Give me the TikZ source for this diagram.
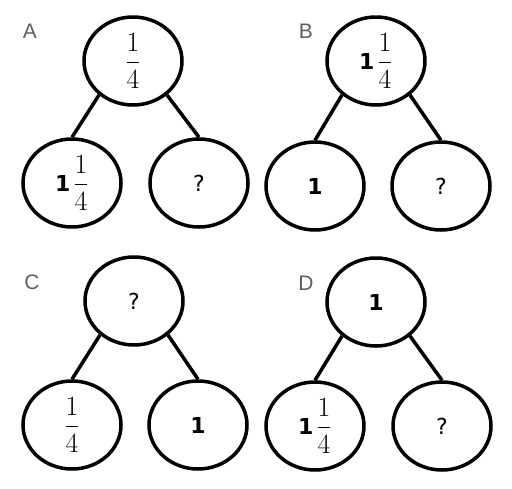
\documentclass[tikz,border=0pt]{standalone}
\usepackage{fontspec}
\usepackage{amsmath}
\usepackage{graphicx}
\usetikzlibrary{shapes.geometric}
\newfontfamily\signfont{DejaVu Sans}
\newfontfamily\tagfont{Liberation Sans}
\definecolor{taggray}{HTML}{5F5F5F}
\newcommand{\qfrac}{\scalebox{1.12}{\Huge$\dfrac{1}{4}$}}
\newcommand{\wone}{{\signfont\bfseries\fontsize{22}{25}\selectfont 1}}
\newcommand{\qmark}{{\signfont\fontsize{22}{26}\selectfont ?}}
\begin{document}
\begin{tikzpicture}[x=1pt, y=-1pt,
  bubble/.style={draw, ellipse, line width=3.5pt, minimum width=98pt, minimum height=88pt, inner sep=0pt},
  tag/.style={text=taggray, font=\tagfont\fontsize{21}{24}\selectfont, inner sep=0pt},
  link/.style={line width=3.5pt}]
\useasboundingbox (0,0) rectangle (512,488);
% A
\node[tag] (labA) at (30,31) {A};
\node[bubble] (topA) at (133,61) {\qfrac};
\node[bubble] (leftA) at (72,183) {\wone\;\qfrac};
\node[bubble] (rightA) at (199,183) {\qmark};
\draw[link] (topA.225) -- (leftA.north);
\draw[link] (topA.-45) -- (rightA.north);
% B
\node[tag] (labB) at (306,31) {B};
\node[bubble] (topB) at (376,61) {\wone\;\qfrac};
\node[bubble] (leftB) at (315,186) {\wone};
\node[bubble] (rightB) at (441,186) {\qmark};
\draw[link] (topB.225) -- (leftB.north);
\draw[link] (topB.-45) -- (rightB.north);
% C
\node[tag] (labC) at (32,282) {C};
\node[bubble] (topC) at (134,301) {\qmark};
\node[bubble] (leftC) at (72,425) {\qfrac};
\node[bubble] (rightC) at (198,425) {\wone};
\draw[link] (topC.225) -- (leftC.north);
\draw[link] (topC.-45) -- (rightC.north);
% D
\node[tag] (labD) at (306,283) {D};
\node[bubble] (topD) at (376,302) {\wone};
\node[bubble] (leftD) at (315,426) {\wone\;\qfrac};
\node[bubble] (rightD) at (442,426) {\qmark};
\draw[link] (topD.225) -- (leftD.north);
\draw[link] (topD.-45) -- (rightD.north);
\end{tikzpicture}
\end{document}
